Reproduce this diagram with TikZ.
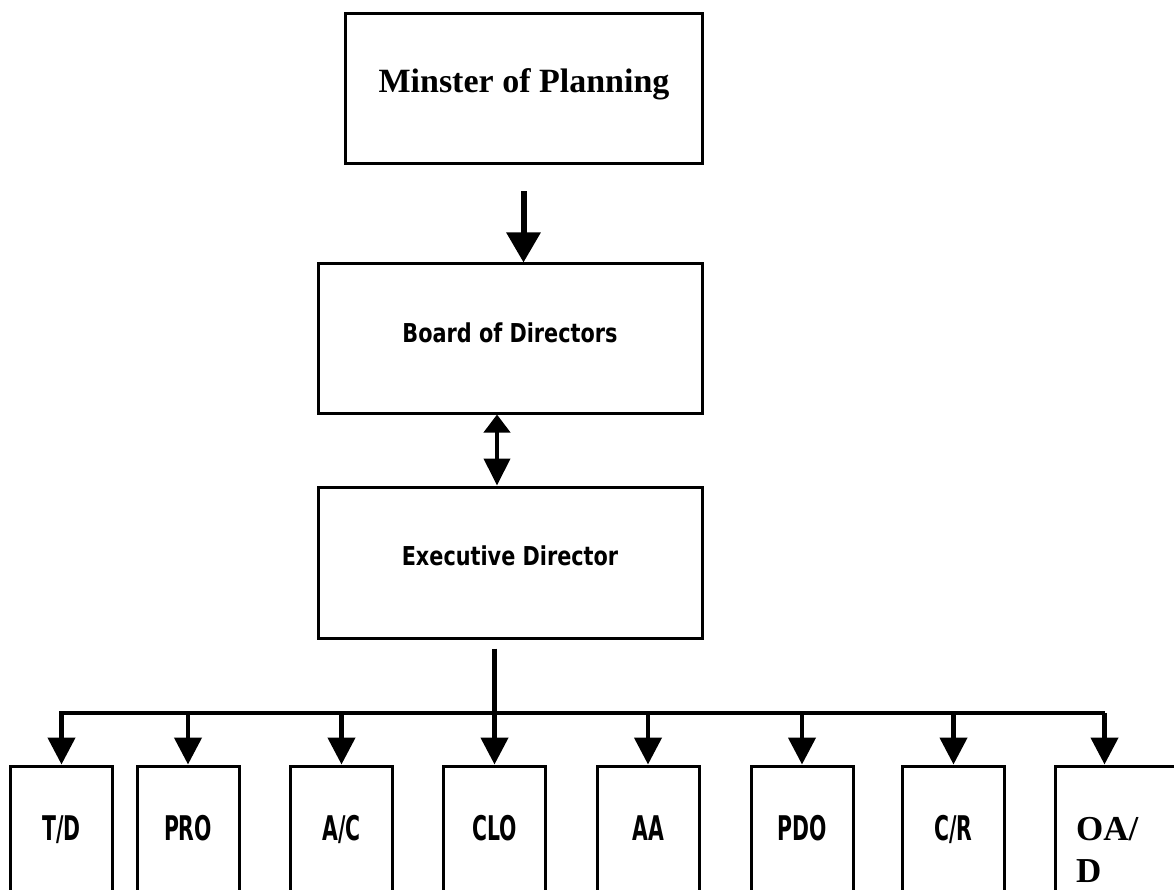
\documentclass[tikz,border=0pt]{standalone}
\usepackage{fontspec}
\setmainfont{Liberation Serif}
\newfontfamily\headfont[FakeStretch=0.8]{DejaVu Sans}
\newfontfamily\unitfont[FakeStretch=0.6]{DejaVu Sans}
\usetikzlibrary{arrows.meta,calc}

\tikzset{
  orgbox/.style={draw, line width=3pt, rectangle, inner sep=0pt},
  unitbox/.style={orgbox, minimum width=102pt, minimum height=160pt},
  link/.style={line width=4.5pt},
  bigtip/.style={-{Triangle[length=30pt,width=33pt]}},
  smalltip/.style={-{Triangle[length=27pt,width=27pt]}},
  bothtip/.style={{Triangle[length=18pt,width=26pt]}-{Triangle[length=27pt,width=26pt]}},
  serifbold/.style={font=\fontsize{34}{40}\selectfont\bfseries, anchor=base, inner sep=0pt},
  headtext/.style={font=\headfont\fontsize{26}{30}\selectfont\bfseries, anchor=base, inner sep=0pt},
  unittext/.style={font=\unitfont\fontsize{34}{40}\selectfont\bfseries, anchor=base, inner sep=0pt},
  odtext/.style={font=\fontsize{35}{45}\selectfont\bfseries, anchor=base west, inner sep=0pt},
}

\begin{document}
\begin{tikzpicture}[x=1pt, y=-1pt]
  \useasboundingbox (0,0) rectangle (1174,890);
  \clip (0,0) rectangle (1174,890);
  \fill[white] (0,0) rectangle (1174,890);

  % upper chain of command
  \node[orgbox, minimum width=357pt, minimum height=150pt] (mp) at (523.5,89) {};
  \node[orgbox, minimum width=384pt, minimum height=149pt] (bd) at (510,338.5) {};
  \node[orgbox, minimum width=384pt, minimum height=151pt] (ed) at (510,562.5) {};

  \node[serifbold] (mpt) at (524,93) {Minster of Planning};
  \node[headtext] (bdt) at (510,342) {Board of Directors};
  \node[headtext] (edt) at (510,565) {Executive Director};

  % departments
  \node[unitbox] (td)  at (61.5,846)  {};
  \node[unitbox] (pro) at (188,846)   {};
  \node[unitbox] (ac)  at (341.5,846) {};
  \node[unitbox] (clo) at (494.5,846) {};
  \node[unitbox] (aa)  at (648,846)   {};
  \node[unitbox] (pdo) at (802,846)   {};
  \node[unitbox] (cr)  at (953.5,846) {};
  \node[orgbox, minimum width=130pt, minimum height=160pt] (od) at (1120,846) {};
  \coordinate (odin) at ($(od.north west)+(51,0)$);

  \node[unittext] (tdt)  at ($(td.north)+(0,76)$)  {T/D};
  \node[unittext] (prot) at ($(pro.north)+(0,76)$) {PRO};
  \node[unittext] (act)  at ($(ac.north)+(0,76)$)  {A/C};
  \node[unittext] (clot) at ($(clo.north)+(0,76)$) {CLO};
  \node[unittext] (aat)  at ($(aa.north)+(0,76)$)  {AA};
  \node[unittext] (pdot) at ($(pdo.north)+(0,76)$) {PDO};
  \node[unittext] (crt)  at ($(cr.north)+(0,76)$)  {C/R};
  \node[odtext] (odt1) at (1076,840) {OA/};
  \node[odtext] (odt2) at (1076,882) {D};

  % connectors
  \draw[link, line width=6pt, bigtip] ($(mp.south)+(0,26)$) -- (bd.north -| mp.south);
  \draw[link, line width=4pt, bothtip] ($(bd.south)+(-13,0)$) -- ($(ed.north)+(-13,0)$);

  \coordinate (bar) at (0,713);
  \draw[link, smalltip] ($(ed.south -| clo.north)+(0,9)$) -- (clo.north);
  \draw[link, smalltip] (bar -| odin) -- (bar -| td.north) -- (td.north);
  \draw[link, smalltip] (bar -| odin) -- (odin);
  \foreach \n in {pro, ac, aa, pdo, cr}
    \draw[link, smalltip] (bar -| \n.north) -- (\n.north);
\end{tikzpicture}
\end{document}
